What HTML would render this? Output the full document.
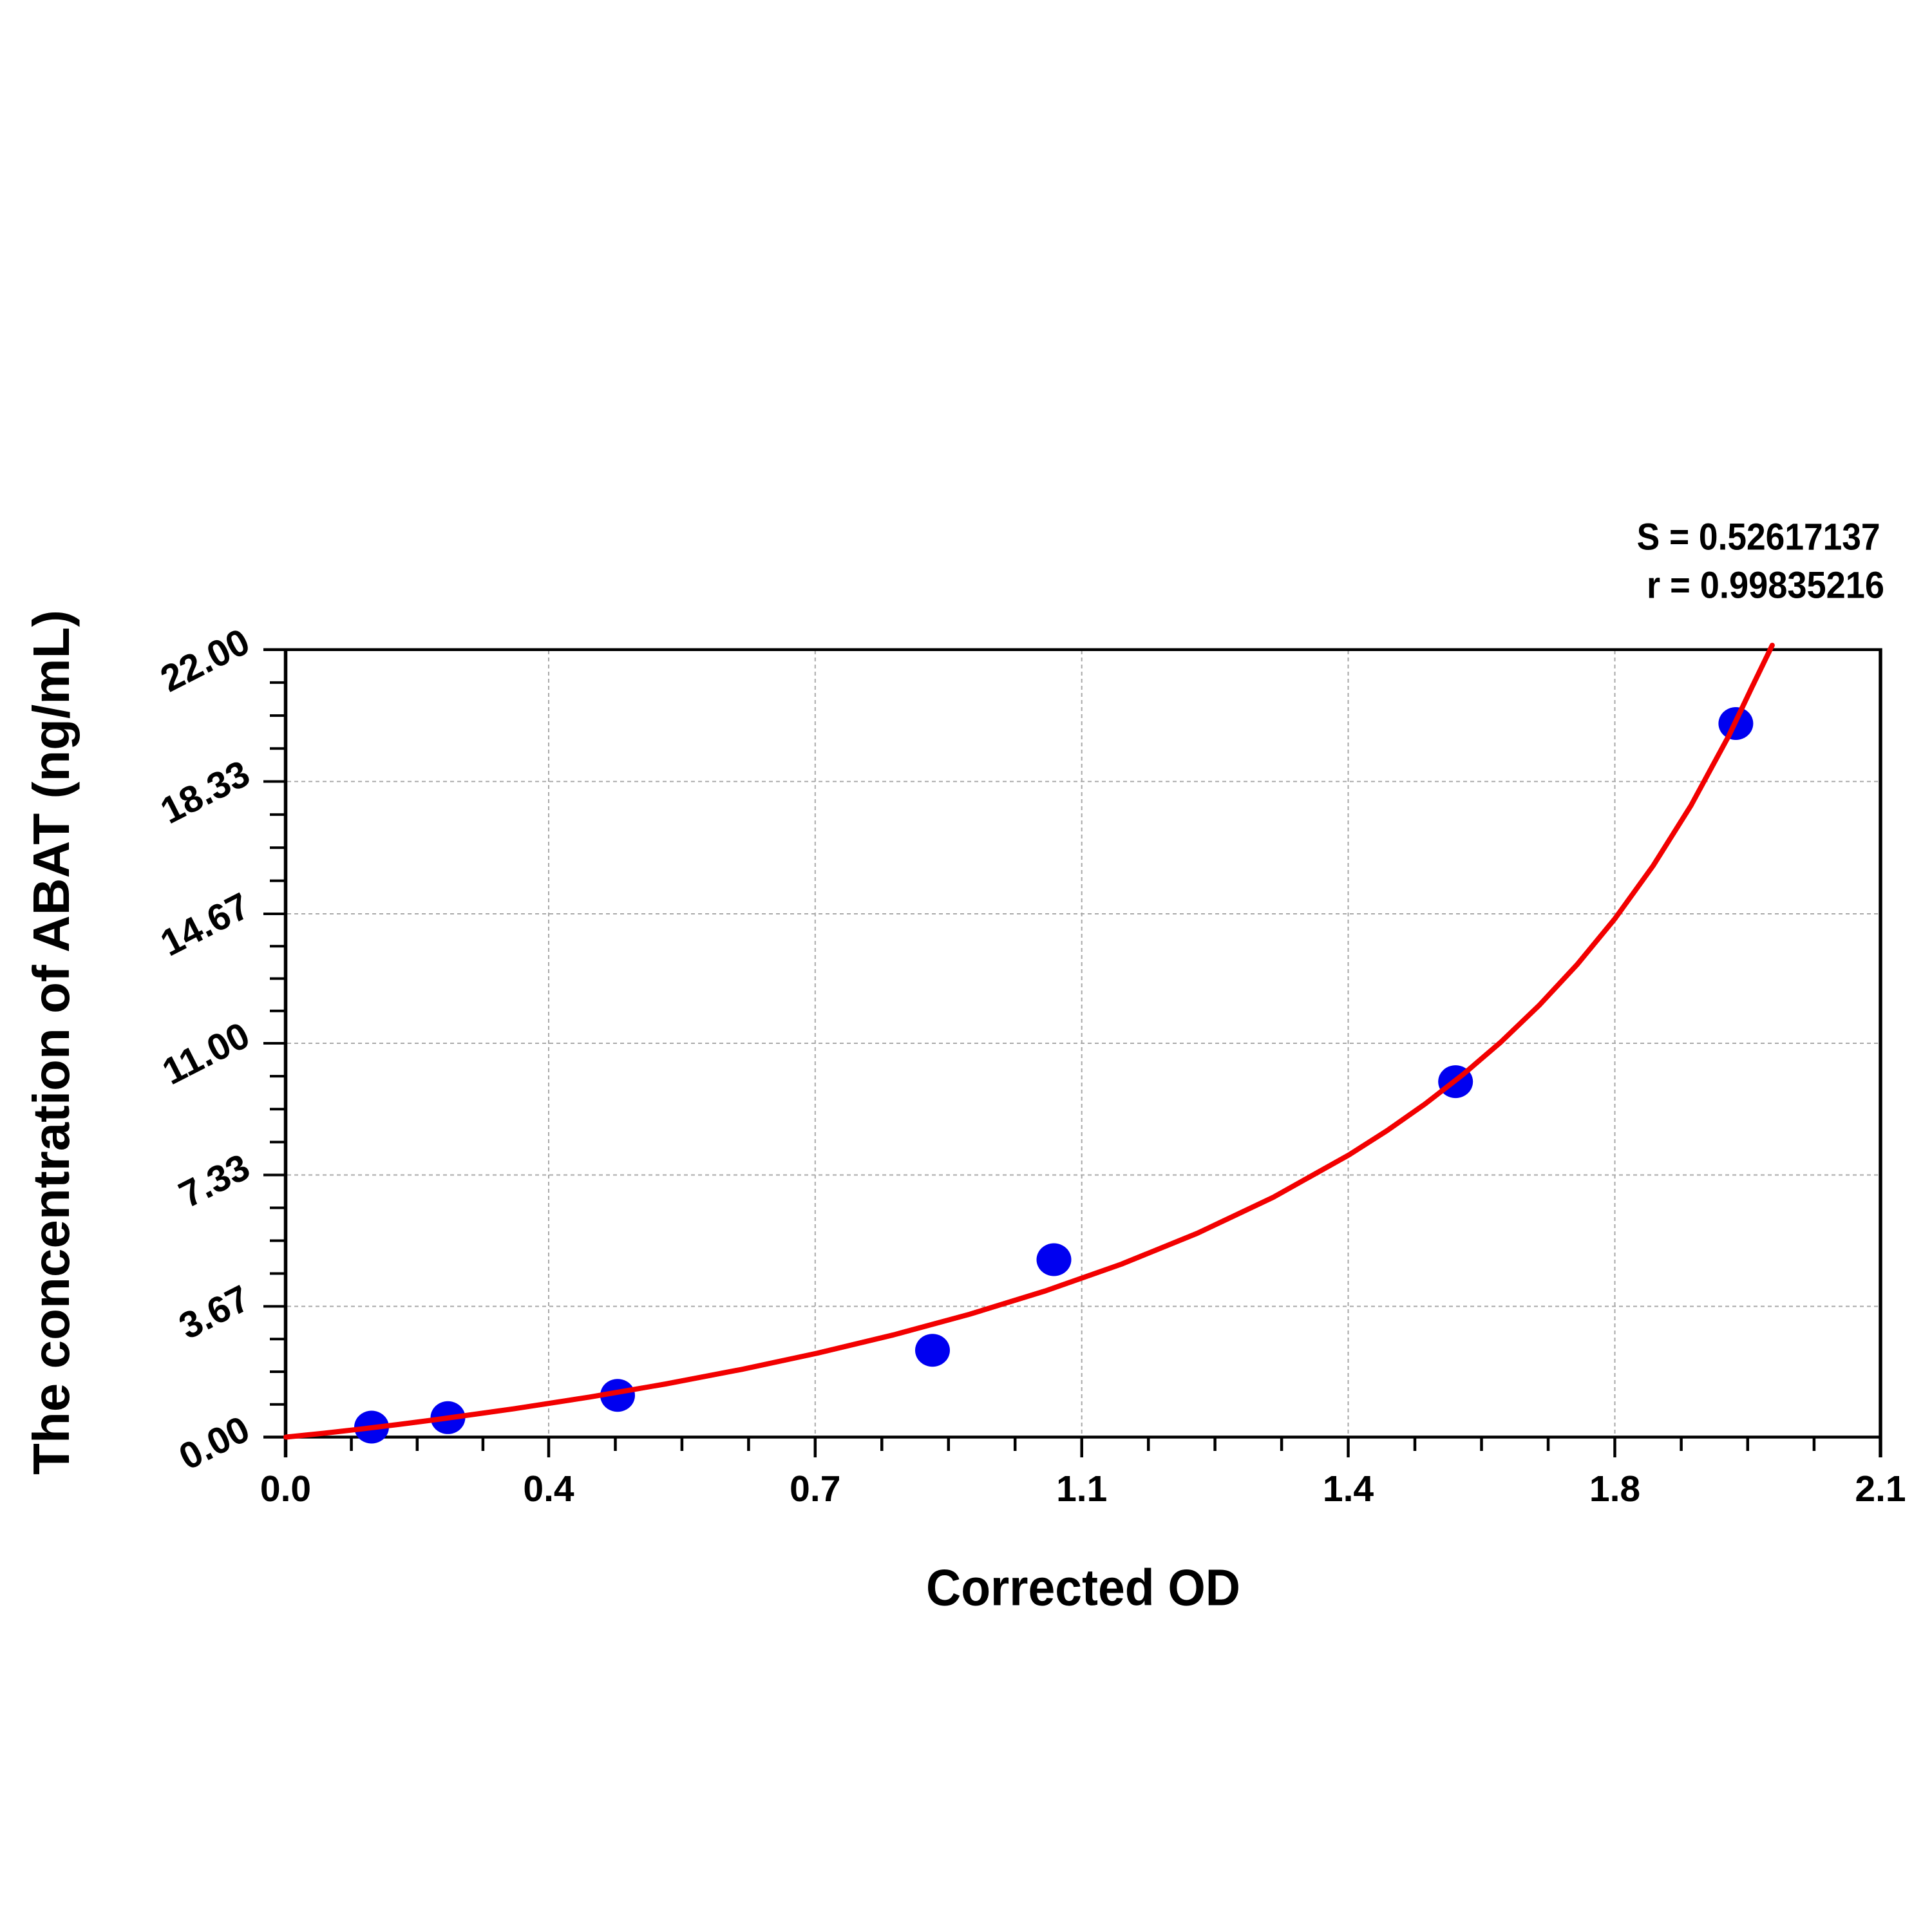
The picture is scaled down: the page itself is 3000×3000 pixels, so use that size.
<!DOCTYPE html>
<html>
<head>
<meta charset="utf-8">
<style>
  html, body { margin: 0; padding: 0; background: #ffffff; }
  svg { display: block; }
  text { font-family: "Liberation Sans", Arial, sans-serif; font-weight: bold; fill: #000; }
</style>
</head>
<body>
<svg width="3000" height="3000" viewBox="0 0 3000 3000" xmlns="http://www.w3.org/2000/svg">
  <rect x="0" y="0" width="3000" height="3000" fill="#ffffff"/>

  <!-- gridlines -->
  <g stroke="#a8a8a8" stroke-width="2" stroke-dasharray="6 5" fill="none">
    <line x1="852" y1="1010" x2="852" y2="2230"/>
    <line x1="1265.8" y1="1010" x2="1265.8" y2="2230"/>
    <line x1="1679.7" y1="1010" x2="1679.7" y2="2230"/>
    <line x1="2093.5" y1="1010" x2="2093.5" y2="2230"/>
    <line x1="2507.5" y1="1010" x2="2507.5" y2="2230"/>
    <line x1="446" y1="2028.5" x2="2918" y2="2028.5"/>
    <line x1="446" y1="1824.5" x2="2918" y2="1824.5"/>
    <line x1="446" y1="1620" x2="2918" y2="1620"/>
    <line x1="446" y1="1419" x2="2918" y2="1419"/>
    <line x1="446" y1="1213.5" x2="2918" y2="1213.5"/>
  </g>

  <!-- axes frame -->
  <g stroke="#000" fill="none">
    <line x1="409" y1="1008.7" x2="2922" y2="1008.7" stroke-width="4.5"/>
    <line x1="409" y1="2231.5" x2="2922" y2="2231.5" stroke-width="4.5"/>
    <line x1="443.5" y1="1006.5" x2="443.5" y2="2263" stroke-width="5.5"/>
    <line x1="2920" y1="1006.5" x2="2920" y2="2263" stroke-width="5.5"/>
  </g>

  <!-- x ticks -->
  <g stroke="#000" stroke-width="4.5">
    <line x1="545.6" y1="2231" x2="545.6" y2="2253"/>
    <line x1="647.8" y1="2231" x2="647.8" y2="2253"/>
    <line x1="749.9" y1="2231" x2="749.9" y2="2253"/>
    <line x1="852" y1="2231" x2="852" y2="2263"/>
    <line x1="955.5" y1="2231" x2="955.5" y2="2253"/>
    <line x1="1058.9" y1="2231" x2="1058.9" y2="2253"/>
    <line x1="1162.4" y1="2231" x2="1162.4" y2="2253"/>
    <line x1="1265.8" y1="2231" x2="1265.8" y2="2263"/>
    <line x1="1369.3" y1="2231" x2="1369.3" y2="2253"/>
    <line x1="1472.8" y1="2231" x2="1472.8" y2="2253"/>
    <line x1="1576.2" y1="2231" x2="1576.2" y2="2253"/>
    <line x1="1679.7" y1="2231" x2="1679.7" y2="2263"/>
    <line x1="1783.2" y1="2231" x2="1783.2" y2="2253"/>
    <line x1="1886.6" y1="2231" x2="1886.6" y2="2253"/>
    <line x1="1990.1" y1="2231" x2="1990.1" y2="2253"/>
    <line x1="2093.5" y1="2231" x2="2093.5" y2="2263"/>
    <line x1="2197" y1="2231" x2="2197" y2="2253"/>
    <line x1="2300.5" y1="2231" x2="2300.5" y2="2253"/>
    <line x1="2404" y1="2231" x2="2404" y2="2253"/>
    <line x1="2507.5" y1="2231" x2="2507.5" y2="2263"/>
    <line x1="2610.6" y1="2231" x2="2610.6" y2="2253"/>
    <line x1="2713.8" y1="2231" x2="2713.8" y2="2253"/>
    <line x1="2816.9" y1="2231" x2="2816.9" y2="2253"/>
  </g>

  <!-- y ticks -->
  <g stroke="#000" stroke-width="4">
    <line x1="419" y1="2180.8" x2="444" y2="2180.8"/>
    <line x1="419" y1="2130" x2="444" y2="2130"/>
    <line x1="419" y1="2079.3" x2="444" y2="2079.3"/>
    <line x1="409" y1="2028.5" x2="444" y2="2028.5"/>
    <line x1="419" y1="1977.5" x2="444" y2="1977.5"/>
    <line x1="419" y1="1926.5" x2="444" y2="1926.5"/>
    <line x1="419" y1="1875.5" x2="444" y2="1875.5"/>
    <line x1="409" y1="1824.5" x2="444" y2="1824.5"/>
    <line x1="419" y1="1773.4" x2="444" y2="1773.4"/>
    <line x1="419" y1="1722.3" x2="444" y2="1722.3"/>
    <line x1="419" y1="1671.1" x2="444" y2="1671.1"/>
    <line x1="409" y1="1620" x2="444" y2="1620"/>
    <line x1="419" y1="1569.8" x2="444" y2="1569.8"/>
    <line x1="419" y1="1519.5" x2="444" y2="1519.5"/>
    <line x1="419" y1="1469.3" x2="444" y2="1469.3"/>
    <line x1="409" y1="1419" x2="444" y2="1419"/>
    <line x1="419" y1="1367.6" x2="444" y2="1367.6"/>
    <line x1="419" y1="1316.3" x2="444" y2="1316.3"/>
    <line x1="419" y1="1264.9" x2="444" y2="1264.9"/>
    <line x1="409" y1="1213.5" x2="444" y2="1213.5"/>
    <line x1="419" y1="1162.3" x2="444" y2="1162.3"/>
    <line x1="419" y1="1111.1" x2="444" y2="1111.1"/>
    <line x1="419" y1="1059.9" x2="444" y2="1059.9"/>
  </g>

  <!-- data points -->
  <g fill="#0000f0">
    <ellipse cx="577" cy="2216" rx="27" ry="25.5"/>
    <ellipse cx="695.5" cy="2201.3" rx="27" ry="25.5"/>
    <ellipse cx="959" cy="2166.7" rx="27" ry="25.5"/>
    <ellipse cx="1448" cy="2096.7" rx="27" ry="25.5"/>
    <ellipse cx="1636.5" cy="1956" rx="27" ry="25.5"/>
    <ellipse cx="2260.2" cy="1679.6" rx="27" ry="25.5"/>
    <ellipse cx="2695.4" cy="1123.5" rx="27" ry="25.5"/>
  </g>

  <!-- fitted curve -->
  <polyline fill="none" stroke="#f20000" stroke-width="8" stroke-linejoin="round" stroke-linecap="round"
    points="444,2231.5 503,2225.5 561.9,2218.8 620.9,2211.6 679.9,2204 797.8,2187.6 915.7,2169.3 1033.7,2149 1151.6,2126.4 1269.5,2101.1 1387.4,2072.8 1505.4,2040.8 1623.3,2004.5 1741.2,1963 1859.2,1915 1977.1,1859.1 2095,1793.1 2154,1755.5 2212.95,1714.1 2271.9,1668.4 2330.9,1617.8 2389.8,1561.3 2448.8,1497.9 2507.8,1426.3 2566.7,1344.7 2625.7,1250.9 2684.7,1142.1 2720,1067.9 2751.9,1002"/>

  <!-- x tick labels -->
  <g font-size="57" text-anchor="middle">
    <text x="443.5" y="2331">0.0</text>
    <text x="852" y="2331">0.4</text>
    <text x="1265.8" y="2331">0.7</text>
    <text x="1679.7" y="2331">1.1</text>
    <text x="2093.5" y="2331">1.4</text>
    <text x="2507.5" y="2331">1.8</text>
    <text x="2920" y="2331">2.1</text>
  </g>

  <!-- y tick labels -->
  <g font-size="58" text-anchor="end">
    <text x="392" y="2232.5" transform="rotate(-27 392 2232.5)">0.00</text>
    <text x="392" y="2029.5" transform="rotate(-27 392 2029.5)">3.67</text>
    <text x="392" y="1825.5" transform="rotate(-27 392 1825.5)">7.33</text>
    <text x="392" y="1621" transform="rotate(-27 392 1621)">11.00</text>
    <text x="392" y="1420" transform="rotate(-27 392 1420)">14.67</text>
    <text x="392" y="1214.5" transform="rotate(-27 392 1214.5)">18.33</text>
    <text x="392" y="1009.7" transform="rotate(-27 392 1009.7)">22.00</text>
  </g>

  <!-- axis titles -->
  <text x="1438" y="2492.7" font-size="80" textLength="488" lengthAdjust="spacingAndGlyphs">Corrected OD</text>
  <text x="107" y="1618.5" font-size="80" text-anchor="middle" textLength="1343" lengthAdjust="spacingAndGlyphs" transform="rotate(-90 107 1618.5)">The concentration of ABAT (ng/mL)</text>

  <!-- statistics -->
  <text x="2541.6" y="853.3" font-size="58" textLength="378" lengthAdjust="spacingAndGlyphs">S = 0.52617137</text>
  <text x="2557" y="928.3" font-size="58" textLength="369" lengthAdjust="spacingAndGlyphs">r = 0.99835216</text>
</svg>
</body>
</html>
